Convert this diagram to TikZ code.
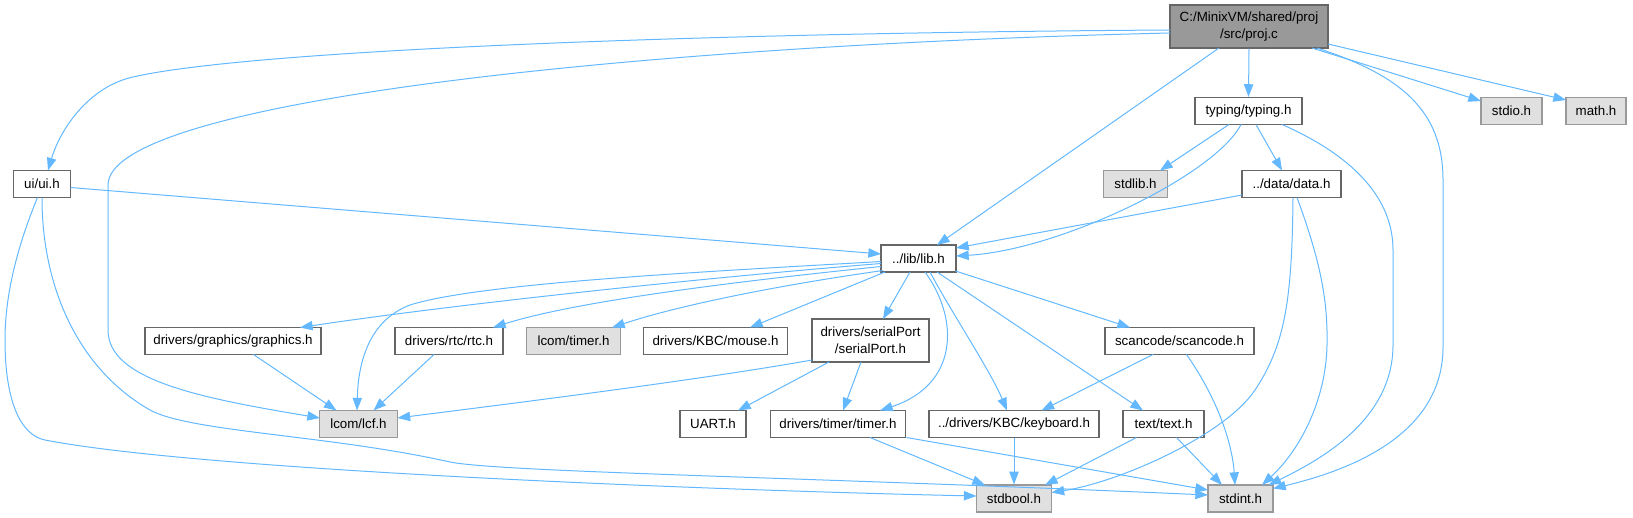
\documentclass[tikz,border=0pt]{standalone}
\usepackage{fontspec}
\setmainfont{Liberation Sans}
\usetikzlibrary{arrows.meta,calc}
\definecolor{edgec}{HTML}{63B8FF}
\definecolor{boxb}{HTML}{666666}
\definecolor{grayf}{HTML}{E0E0E0}
\definecolor{grayb}{HTML}{999999}
\definecolor{mainf}{HTML}{999999}
\begin{document}
\begin{tikzpicture}[x=0.75pt,y=-0.75pt,
  every node/.style={font=\fontsize{10pt}{12.5pt}\selectfont, inner sep=0pt, minimum height=20.25pt, align=center},
  wbox/.style={draw=boxb, fill=white, line width=0.9pt},
  gbox/.style={draw=grayb, fill=grayf, line width=0.9pt},
  mbox/.style={draw=boxb, fill=mainf, line width=0.9pt, minimum height=32.25pt},
  conn/.style={draw=edgec, line width=0.75pt, -{Triangle[length=9.5pt,width=7pt]}},
]
\useasboundingbox (0,0) rectangle (1633,517);

% nodes
\node[mbox, minimum width=118.5pt] (proj) at (1249,26.5) {C:/MinixVM/shared/proj\\/src/proj.c};
\node[wbox, minimum width=80.25pt] (typing) at (1248.5,111) {typing/typing.h};
\node[gbox, minimum width=45.75pt] (stdio) at (1511.5,111) {stdio.h};
\node[gbox, minimum width=45pt] (math) at (1596,111) {math.h};
\node[wbox, minimum width=42.75pt] (ui) at (42,184) {ui/ui.h};
\node[gbox, minimum width=48pt] (stdlib) at (1135.5,184) {stdlib.h};
\node[wbox, minimum width=74.25pt] (data) at (1291.5,184) {../data/data.h};
\node[wbox, minimum width=56.25pt] (lib) at (918.5,258.5) {../lib/lib.h};
\node[wbox, minimum width=132pt] (graphics) at (233,341) {drivers/graphics/graphics.h};
\node[wbox, minimum width=81pt] (rtc) at (449,341) {drivers/rtc/rtc.h};
\node[gbox, minimum width=70.5pt] (lcomtimer) at (573.5,341) {lcom/timer.h};
\node[wbox, minimum width=108pt] (mouse) at (715.5,341) {drivers/KBC/mouse.h};
\node[wbox, minimum width=87.75pt, minimum height=32.25pt] (serial) at (870.5,340.5) {drivers/serialPort\\/serialPort.h};
\node[wbox, minimum width=111.75pt] (scancode) at (1179.5,341) {scancode/scancode.h};
\node[gbox, minimum width=58.5pt] (lcf) at (358.5,424) {lcom/lcf.h};
\node[wbox, minimum width=49.5pt] (uart) at (713,424) {UART.h};
\node[wbox, minimum width=101.25pt] (timer) at (838,424) {drivers/timer/timer.h};
\node[wbox, minimum width=127.5pt] (keyboard) at (1014,424) {../drivers/KBC/keyboard.h};
\node[wbox, minimum width=60.75pt] (text) at (1163.5,424) {text/text.h};
\node[gbox, minimum width=56.25pt] (stdbool) at (1014,498.5) {stdbool.h};
\node[gbox, minimum width=48.75pt] (stdint) at (1240.5,498.5) {stdint.h};

% edges from proj.c
\draw[conn] ($(proj)+(-79,3.5)$) .. controls (700,33) and (250,50) .. (133,77) .. controls (88,87) and (60,130) .. ($(ui)+(6,-13.5)$);
\draw[conn] ($(proj)+(-79,6.5)$) .. controls (650,45) and (108,100) .. (108,185) -- (108,330) .. controls (108,380) and (200,398) .. ($(lcf)+(-38.5,-6)$);
\draw[conn] ($(proj)+(-30,21.5)$) -- ($(lib)+(18.5,-13.5)$);
\draw[conn] (proj.south) -- (typing.north);
\draw[conn] ($(proj)+(63,21.5)$) -- ($(stdio)+(-30.5,-10)$);
\draw[conn] ($(proj)+(79,17.5)$) -- ($(math)+(-30,-11)$);
\draw[conn] ($(proj)+(68,21.5)$) .. controls (1400,75) and (1443,110) .. (1443,180) -- (1443,347) .. controls (1443,430) and (1360,468) .. ($(stdint)+(32.5,-10)$);

% edges from typing.h
\draw[conn] ($(typing)+(-19.5,13.5)$) -- ($(stdlib)+(24.5,-13.5)$);
\draw[conn] ($(typing)+(7.5,13.5)$) -- ($(data)+(-9.5,-13.5)$);
\draw[conn] ($(typing)+(-7.5,13.5)$) .. controls (1215,175) and (1060,250) .. ($(lib)+(37.5,-2.5)$);
\draw[conn] ($(typing)+(33.5,13.5)$) .. controls (1340,150) and (1393,190) .. (1393,250) -- (1393,345) .. controls (1393,420) and (1320,460) .. ($(stdint)+(28,-13.5)$);

% edges from data.h
\draw[conn] ($(data)+(-49.5,11)$) -- ($(lib)+(37.5,-10.5)$);
\draw[conn] ($(data)+(1.5,13.5)$) .. controls (1292,300) and (1285,345) .. (1255,390) .. controls (1225,435) and (1120,482) .. ($(stdbool)+(37.5,-6)$);
\draw[conn] ($(data)+(5.5,13.5)$) .. controls (1320,260) and (1328,300) .. (1327,345) .. controls (1326,400) and (1300,450) .. ($(stdint)+(21.5,-13.5)$);

% edges from ui.h
\draw[conn] ($(ui)+(28.5,3.5)$) -- ($(lib)+(-37.5,-4.5)$);
\draw[conn] ($(ui)+(-4.5,13.5)$) .. controls (20,240) and (5,290) .. (5,340) .. controls (5,400) and (20,435) .. (45,440) .. controls (200,470) and (700,490) .. ($(stdbool)+(-37.5,-2.5)$);
\draw[conn] ($(ui)+(0,13.5)$) .. controls (42,290) and (80,370) .. (150,410) .. controls (190,432) and (330,435) .. (450,462) .. controls (500,472) and (800,477) .. ($(stdint)+(-32.5,-3.5)$);

% edges from lib.h
\draw[conn] ($(lib)+(-37.5,5)$) .. controls (700,278) and (450,305) .. ($(graphics)+(67,-13.5)$);
\draw[conn] ($(lib)+(-37.5,3)$) .. controls (700,272) and (480,283) .. (410,305) .. controls (365,322) and (358,370) .. ($(lcf)+(-1.5,-13.5)$);
\draw[conn] ($(lib)+(-37.5,8)$) .. controls (750,280) and (580,300) .. ($(rtc)+(44,-13.5)$);
\draw[conn] ($(lib)+(-35.5,12)$) .. controls (780,285) and (680,305) .. ($(lcomtimer)+(38.5,-13.5)$);
\draw[conn] ($(lib)+(-33.5,13.5)$) -- ($(mouse)+(34.5,-13.5)$);
\draw[conn] ($(lib)+(-8.5,13.5)$) -- ($(serial)+(12.5,-21.5)$);
\draw[conn] ($(lib)+(6.5,13.5)$) .. controls (960,320) and (958,385) .. ($(timer)+(42,-13.5)$);
\draw[conn] ($(lib)+(11.5,13.5)$) .. controls (950,310) and (990,370) .. ($(keyboard)+(-7,-13.5)$);
\draw[conn] ($(lib)+(18.5,13.5)$) -- ($(text)+(-20.5,-13.5)$);
\draw[conn] ($(lib)+(37,12.5)$) -- ($(scancode)+(-49.5,-13.5)$);

% second-level edges
\draw[conn] ($(serial)+(-58.5,19.5)$) .. controls (700,380) and (500,405) .. ($(lcf)+(39,-6)$);
\draw[conn] ($(serial)+(-41.5,21.5)$) -- ($(uart)+(25,-13.5)$);
\draw[conn] ($(serial)+(-9.5,21.5)$) -- ($(timer)+(5,-13.5)$);
\draw[conn] ($(graphics)+(20.5,13.5)$) -- ($(lcf)+(-22,-13.5)$);
\draw[conn] ($(rtc)+(-15,13.5)$) -- ($(lcf)+(15,-13.5)$);
\draw[conn] ($(scancode)+(-26.5,13.5)$) -- ($(keyboard)+(27.5,-13.5)$);
\draw[conn] ($(scancode)+(7,13.5)$) .. controls (1215,395) and (1232,440) .. ($(stdint)+(-5.5,-13.5)$);
\draw[conn] (keyboard.south) -- (stdbool.north);
\draw[conn] ($(text)+(-27,13.5)$) -- ($(stdbool)+(31,-13.5)$);
\draw[conn] ($(text)+(13,13.5)$) -- ($(stdint)+(-18.5,-13.5)$);
\draw[conn] ($(timer)+(32,13.5)$) -- ($(stdbool)+(-29,-13.5)$);
\draw[conn] ($(timer)+(68.5,13.5)$) -- ($(stdint)+(-32.5,-8.5)$);
\end{tikzpicture}
\end{document}
